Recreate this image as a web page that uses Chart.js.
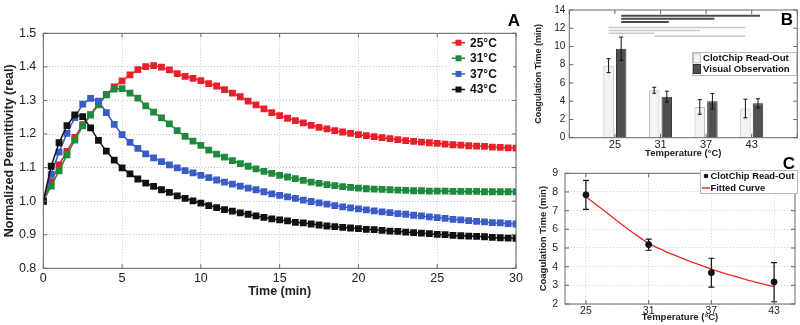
<!DOCTYPE html>
<html>
<head>
<meta charset="utf-8">
<script src="https://cdn.jsdelivr.net/npm/chart.js@4.4.0/dist/chart.umd.min.js"></script>
<style>
  body { margin: 0; background: #fff; width: 800px; height: 325px; position: relative; overflow: hidden; }
  canvas { position: absolute; }
  #chartA { left: 0; top: 0; }
  #chartB { left: 520px; top: 0; }
  #chartC { left: 520px; top: 160px; }
  .tag { position: absolute; width: 20px; text-align: center; font: bold 17px "Liberation Sans", Arial, sans-serif; color: #000; line-height: 17px; }
</style>
</head>
<body>
<canvas id="chartA" width="530" height="325"></canvas>
<canvas id="chartB" width="280" height="160"></canvas>
<canvas id="chartC" width="280" height="165"></canvas>
<div class="tag" style="left:504px;top:12px">A</div>
<div class="tag" style="left:777px;top:11px">B</div>
<div class="tag" style="left:779px;top:155px">C</div>
<script>
// Panel A: normalized permittivity vs time
const timeMin = [0, 0.5, 1, 1.5, 2, 2.5, 3, 3.5, 4, 4.5, 5, 5.5, 6, 6.5, 7, 7.5, 8, 8.5, 9, 9.5,
  10, 10.5, 11, 11.5, 12, 12.5, 13, 13.5, 14, 14.5, 15, 15.5, 16, 16.5, 17, 17.5, 18, 18.5, 19, 19.5,
  20, 20.5, 21, 21.5, 22, 22.5, 23, 23.5, 24, 24.5, 25, 25.5, 26, 26.5, 27, 27.5, 28, 28.5, 29, 29.5, 30];
const perm25 = [1.000, 1.058, 1.108, 1.148, 1.190, 1.228, 1.258, 1.290, 1.318, 1.340,
  1.358, 1.376, 1.392, 1.401, 1.404, 1.399, 1.391, 1.380, 1.372, 1.366,
  1.359, 1.350, 1.343, 1.332, 1.322, 1.311, 1.298, 1.287, 1.275, 1.264,
  1.255, 1.247, 1.240, 1.233, 1.226, 1.220, 1.215, 1.210, 1.206, 1.202,
  1.198, 1.195, 1.192, 1.189, 1.186, 1.183, 1.180, 1.178, 1.176, 1.174,
  1.172, 1.170, 1.168, 1.167, 1.165, 1.164, 1.163, 1.161, 1.160, 1.159, 1.158];
const perm31 = [1.000, 1.045, 1.090, 1.138, 1.182, 1.224, 1.256, 1.287, 1.317, 1.334,
  1.335, 1.322, 1.307, 1.284, 1.265, 1.248, 1.230, 1.210, 1.193, 1.179,
  1.166, 1.152, 1.140, 1.131, 1.121, 1.112, 1.104, 1.096, 1.089, 1.083,
  1.077, 1.072, 1.067, 1.062, 1.057, 1.053, 1.049, 1.046, 1.043, 1.041,
  1.039, 1.037, 1.036, 1.035, 1.034, 1.033, 1.032, 1.031, 1.031, 1.030,
  1.030, 1.030, 1.029, 1.029, 1.029, 1.029, 1.028, 1.028, 1.028, 1.028, 1.028];
const perm37 = [1.000, 1.080, 1.146, 1.202, 1.249, 1.289, 1.306, 1.298, 1.264, 1.229,
  1.198, 1.175, 1.157, 1.141, 1.129, 1.118, 1.108, 1.099, 1.091, 1.084,
  1.077, 1.070, 1.063, 1.057, 1.051, 1.045, 1.039, 1.034, 1.028, 1.022,
  1.017, 1.013, 1.008, 1.003, 0.999, 0.995, 0.991, 0.987, 0.983, 0.980,
  0.977, 0.974, 0.971, 0.968, 0.966, 0.963, 0.961, 0.958, 0.956, 0.953,
  0.951, 0.949, 0.946, 0.944, 0.942, 0.940, 0.938, 0.936, 0.935, 0.933, 0.932];
const perm43 = [1.000, 1.104, 1.174, 1.225, 1.257, 1.252, 1.218, 1.181, 1.149, 1.122,
  1.099, 1.081, 1.066, 1.054, 1.044, 1.034, 1.026, 1.016, 1.008, 1.001,
  0.994, 0.987, 0.981, 0.975, 0.970, 0.965, 0.961, 0.956, 0.952, 0.947,
  0.944, 0.941, 0.937, 0.935, 0.932, 0.929, 0.926, 0.924, 0.922, 0.920,
  0.918, 0.916, 0.915, 0.913, 0.911, 0.910, 0.908, 0.906, 0.905, 0.903,
  0.901, 0.900, 0.898, 0.897, 0.896, 0.895, 0.894, 0.892, 0.891, 0.890, 0.889];
const seriesLabels = ['25°C', '31°C', '37°C', '43°C'];

// Panel B: coagulation time bars
const tempLabels = ['25', '31', '37', '43'];
const readOutMean = [7.9, 5.2, 3.37, 3.2];
const readOutErr = [0.77, 0.33, 0.8, 1.02];
const visualMean = [9.75, 4.5, 4.0, 3.77];
const visualErr = [1.28, 0.6, 0.85, 0.5];
// significance bars: series index (0 read-out, 1 visual), from/to temperature, height
const sigSeries = [1, 1, 1, 0, 0, 0, 0];
const sigFrom = ['25', '25', '25', '25', '25', '25', '31'];
const sigTo = ['43', '37', '31', '43', '37', '31', '43'];
const sigLevel = [13.36, 13.04, 12.69, 12.08, 11.76, 11.45, 11.13];

// Panel C: read-out with fitted curve
const temps = [25, 31, 37, 43];
const readOutC = [7.85, 5.18, 3.68, 3.18];
const readOutLow = [7.07, 4.88, 2.9, 2.12];
const readOutHigh = [8.62, 5.47, 4.45, 4.22];
const fitTemp = [25, 26.5, 28, 29.5, 31, 32.5, 34, 35.5, 37, 38.5, 40, 41.5, 43];
const fitTime = [7.75, 7.1, 6.45, 5.82, 5.25, 4.85, 4.5, 4.17, 3.87, 3.6, 3.36, 3.13, 2.93];

Chart.defaults.font.family = '"Liberation Sans", Arial, sans-serif';
Chart.defaults.color = '#222';
Chart.defaults.animation = false;

const colorsA = ['#e8202a', '#1f8a3e', '#3a5cc6', '#111111'];
const boldFont = (s) => ({ size: s, weight: 'bold' });

// box round the plot area with small inward ticks, like the original
const boxPlugin = {
  id: 'box',
  afterDraw(chart) {
    const { ctx, chartArea: a, scales } = chart;
    ctx.save();
    ctx.strokeStyle = '#666';
    ctx.lineWidth = 1;
    ctx.strokeRect(a.left, a.top, a.right - a.left, a.bottom - a.top);
    ctx.beginPath();
    scales.x.ticks.forEach((t, i) => {
      const px = scales.x.getPixelForTick(i);
      ctx.moveTo(px, a.bottom); ctx.lineTo(px, a.bottom - 4);
      ctx.moveTo(px, a.top); ctx.lineTo(px, a.top + 4);
    });
    scales.y.ticks.forEach((t, i) => {
      const py = scales.y.getPixelForTick(i);
      ctx.moveTo(a.left, py); ctx.lineTo(a.left + 4, py);
      ctx.moveTo(a.right, py); ctx.lineTo(a.right - 4, py);
    });
    ctx.stroke();
    ctx.restore();
  }
};

// ---------- A ----------
const permSeries = [perm25, perm31, perm37, perm43];
new Chart(document.getElementById('chartA'), {
  type: 'line',
  data: {
    datasets: permSeries.map((vals, i) => ({
      label: seriesLabels[i],
      data: timeMin.map((t, j) => ({ x: t, y: vals[j] })),
      borderColor: colorsA[i],
      backgroundColor: colorsA[i],
      borderWidth: 1.5,
      pointStyle: 'rect',
      pointRadius: 4.8,
      pointBorderWidth: 0,
      order: 4 - i
    }))
  },
  options: {
    responsive: false,
    layout: { padding: { top: 33.3, right: 14, left: 0, bottom: 0 } },
    plugins: { legend: { display: false }, tooltip: { enabled: false } },
    scales: {
      x: {
        type: 'linear', min: 0, max: 30,
        ticks: { stepSize: 5, padding: 3, font: { size: 12.5 }, color: '#222' },
        grid: { color: '#c4c4c4', drawTicks: false },
        border: { display: false, dash: [1, 2] },
        title: { display: true, text: 'Time (min)', font: boldFont(12.5), color: '#222', padding: { top: 0, bottom: 26 } },
        afterFit: (s) => { s.height = 56.7; }
      },
      y: {
        min: 0.8, max: 1.5,
        ticks: { stepSize: 0.1, padding: 7, font: { size: 12.5 }, color: '#222', callback: (v) => v.toFixed(1) },
        grid: { color: '#c4c4c4', drawTicks: false },
        border: { display: false, dash: [1, 2] },
        title: { display: true, text: 'Normalized Permittivity (real)', font: boldFont(12.5), color: '#222', padding: { top: 2, bottom: 0 } },
        afterFit: (s) => { s.width = 43.3; }
      }
    }
  },
  plugins: [boxPlugin, {
    id: 'legendA',
    afterDraw(chart) {
      const ctx = chart.ctx;
      ctx.save();
      ctx.fillStyle = '#fff';
      ctx.fillRect(447, 34.5, 66, 63);
      chart.data.datasets.forEach((ds, i) => {
        const y = 42.7 + i * 15.6;
        ctx.strokeStyle = ds.borderColor;
        ctx.lineWidth = 1.5;
        ctx.beginPath(); ctx.moveTo(452, y); ctx.lineTo(465, y); ctx.stroke();
        ctx.fillStyle = ds.borderColor;
        ctx.fillRect(455.5, y - 3, 6, 6);
        ctx.fillStyle = '#111';
        ctx.font = 'bold 12px "Liberation Sans", Arial, sans-serif';
        ctx.textBaseline = 'middle';
        ctx.fillText(ds.label, 470, y + 0.5);
      });
      ctx.restore();
    }
  }]
});

// ---------- B ----------
const padCats = (arr) => [null, ...arr, null];
new Chart(document.getElementById('chartB'), {
  type: 'bar',
  data: {
    labels: ['', ...tempLabels, ''],
    datasets: [
      { label: 'ClotChip Read-Out', data: padCats(readOutMean), errs: padCats(readOutErr),
        backgroundColor: '#f3f3f3', borderColor: '#bdbdbd', borderWidth: 1 },
      { label: 'Visual Observation', data: padCats(visualMean), errs: padCats(visualErr),
        backgroundColor: '#505050', borderColor: '#333', borderWidth: 1 }
    ]
  },
  options: {
    responsive: false,
    categoryPercentage: 0.553,
    barPercentage: 0.83,
    layout: { padding: { top: 5.7, right: 2.7, left: 0, bottom: 0 } },
    plugins: { legend: { display: false }, tooltip: { enabled: false } },
    scales: {
      x: {
        offset: false,
        ticks: { padding: 1, font: { size: 11 }, color: '#222', autoSkip: false, maxRotation: 0 },
        grid: { display: false, drawTicks: false },
        border: { display: false },
        title: { display: true, text: 'Temperature (°C)', font: boldFont(9.5), color: '#222', padding: { top: 0, bottom: 1.2 } },
        afterFit: (s) => { s.height = 22.3; }
      },
      y: {
        min: 0, max: 14,
        ticks: { stepSize: 2, padding: 4, font: { size: 10 }, color: '#222' },
        grid: { display: false, drawTicks: false },
        border: { display: false },
        title: { display: true, text: 'Coagulation Time (min)', font: boldFont(9), color: '#222', padding: { top: 13.6, bottom: 0 } },
        afterFit: (s) => { s.width = 49.3; }
      }
    }
  },
  plugins: [boxPlugin, {
    id: 'extrasB',
    afterDatasetsDraw(chart) {
      const { ctx, scales } = chart;
      const y = scales.y;
      ctx.save();
      // error bars
      ctx.strokeStyle = '#111';
      ctx.lineWidth = 1;
      chart.data.datasets.forEach((ds, di) => {
        chart.getDatasetMeta(di).data.forEach((bar, j) => {
          if (ds.data[j] == null) return;
          const hi = y.getPixelForValue(ds.data[j] + ds.errs[j]);
          const lo = y.getPixelForValue(ds.data[j] - ds.errs[j]);
          ctx.beginPath();
          ctx.moveTo(bar.x, hi); ctx.lineTo(bar.x, lo);
          ctx.moveTo(bar.x - 2, hi); ctx.lineTo(bar.x + 2, hi);
          ctx.moveTo(bar.x - 2, lo); ctx.lineTo(bar.x + 2, lo);
          ctx.stroke();
        });
      });
      // significance lines
      const labels = chart.data.labels;
      sigLevel.forEach((lvl, k) => {
        const meta = chart.getDatasetMeta(sigSeries[k]);
        const x0 = meta.data[labels.indexOf(sigFrom[k])].x;
        const x1 = meta.data[labels.indexOf(sigTo[k])].x;
        const py = y.getPixelForValue(lvl);
        ctx.strokeStyle = sigSeries[k] === 1 ? '#4a4a4a' : '#c9c9c9';
        ctx.lineWidth = sigSeries[k] === 1 ? 2 : 1.5;
        ctx.beginPath(); ctx.moveTo(x0, py); ctx.lineTo(x1 + (sigSeries[k] === 1 ? 2 : 0), py); ctx.stroke();
      });
      ctx.restore();
    },
    afterDraw(chart) {
      const ctx = chart.ctx;
      ctx.save();
      ctx.fillStyle = '#fff';
      ctx.strokeStyle = '#bbb';
      ctx.lineWidth = 1;
      ctx.fillRect(172.5, 52.5, 104, 23);
      ctx.strokeRect(172.5, 52.5, 104, 23);
      chart.data.datasets.forEach((ds, i) => {
        const yy = 58.3 + i * 10.7;
        ctx.fillStyle = ds.backgroundColor;
        ctx.strokeStyle = ds.borderColor;
        ctx.fillRect(173.5, yy - 4.5, 7, 9);
        ctx.strokeRect(173.5, yy - 4.5, 7, 9);
        ctx.fillStyle = '#111';
        ctx.font = 'bold 9.6px "Liberation Sans", Arial, sans-serif';
        ctx.textBaseline = 'middle';
        ctx.fillText(ds.label, 183, yy + 0.5);
      });
      ctx.restore();
    }
  }]
});

// ---------- C ----------
new Chart(document.getElementById('chartC'), {
  type: 'line',
  data: {
    datasets: [
      { label: 'ClotChip Read-Out', data: temps.map((t, i) => ({ x: t, y: readOutC[i] })),
        showLine: false, pointRadius: 3, pointBackgroundColor: '#111', pointBorderColor: '#111', borderColor: '#111' },
      { label: 'Fitted Curve', data: fitTemp.map((t, i) => ({ x: t, y: fitTime[i] })),
        borderColor: '#ee2b2b', borderWidth: 1.3, pointRadius: 0, cubicInterpolationMode: 'monotone' }
    ]
  },
  options: {
    responsive: false,
    layout: { padding: { top: 9.3, right: 2, left: 0, bottom: 0 } },
    plugins: { legend: { display: false }, tooltip: { enabled: false } },
    scales: {
      x: {
        type: 'linear', min: 23, max: 45,
        afterBuildTicks: (s) => { s.ticks = temps.map((v) => ({ value: v })); },
        ticks: { padding: 1, font: { size: 10.5 }, color: '#222', callback: (v) => String(v) },
        grid: { color: '#cfcfcf', drawTicks: false },
        border: { display: false, dash: [1, 2] },
        title: { display: true, text: 'Temperature (°C)', font: boldFont(9.5), color: '#222', padding: { top: 0, bottom: 2.3 } },
        afterFit: (s) => { s.height = 21; }
      },
      y: {
        min: 2, max: 9,
        ticks: { stepSize: 1, padding: 7, font: { size: 10.5 }, color: '#222' },
        grid: { color: '#cfcfcf', drawTicks: false },
        border: { display: false, dash: [1, 2] },
        title: { display: true, text: 'Coagulation Time (min)', font: boldFont(9.5), color: '#222', padding: { top: 17.8, bottom: 0 } },
        afterFit: (s) => { s.width = 45; }
      }
    }
  },
  plugins: [boxPlugin, {
    id: 'extrasC',
    afterDatasetsDraw(chart) {
      const { ctx, scales } = chart;
      ctx.save();
      ctx.strokeStyle = '#111';
      ctx.lineWidth = 1.2;
      temps.forEach((t, i) => {
        const px = scales.x.getPixelForValue(t);
        const hi = scales.y.getPixelForValue(readOutHigh[i]);
        const lo = scales.y.getPixelForValue(readOutLow[i]);
        ctx.beginPath();
        ctx.moveTo(px, hi); ctx.lineTo(px, lo);
        ctx.moveTo(px - 3, hi); ctx.lineTo(px + 3, hi);
        ctx.moveTo(px - 3, lo); ctx.lineTo(px + 3, lo);
        ctx.stroke();
      });
      ctx.restore();
    },
    afterDraw(chart) {
      const ctx = chart.ctx;
      ctx.save();
      ctx.fillStyle = '#fff';
      ctx.strokeStyle = '#bbb';
      ctx.lineWidth = 1;
      ctx.fillRect(180.5, 10.5, 97, 23);
      ctx.strokeRect(180.5, 10.5, 97, 23);
      ctx.font = 'bold 9.4px "Liberation Sans", Arial, sans-serif';
      ctx.textBaseline = 'middle';
      const ds = chart.data.datasets;
      ctx.fillStyle = '#111';
      ctx.beginPath(); ctx.arc(186, 16, 2.3, 0, Math.PI * 2); ctx.fill();
      ctx.fillText(ds[0].label, 190.5, 16.5);
      ctx.strokeStyle = ds[1].borderColor;
      ctx.lineWidth = 1.5;
      ctx.beginPath(); ctx.moveTo(182, 28); ctx.lineTo(190, 28); ctx.stroke();
      ctx.fillStyle = '#111';
      ctx.fillText(ds[1].label, 190.5, 28.5);
      ctx.restore();
    }
  }]
});
</script>
</body>
</html>
